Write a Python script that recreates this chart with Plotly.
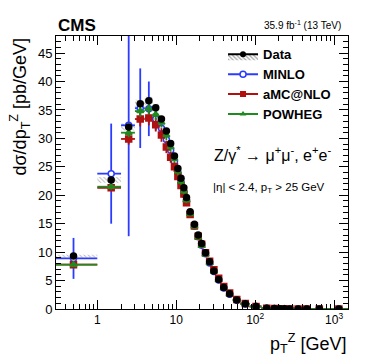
import plotly.graph_objects as go

# ---------------- data ----------------
bin_edges = [0, 1, 2, 3, 4, 5, 6, 7, 8, 9, 10, 11, 12, 13, 14, 16, 18, 20, 22, 25, 28,
             32, 37, 43, 52, 65, 85, 120, 160, 190, 220, 250, 300, 400, 500, 800, 1500]

data_vals = [9.3, 22.7, 32.0, 36.1, 36.6, 35.4, 33.4, 31.3, 29.1, 26.9, 24.7, 23.0, 21.3,
             19.6, 17.1, 14.9, 13.0, 11.5, 9.9, 8.3, 6.7, 5.2, 3.8, 2.7, 1.6, 0.93, 0.45,
             0.15, 0.07, 0.045, 0.03, 0.018, 0.009, 0.004, 0.0015, 0.0002]
data_unc = [0.25, 0.5, 0.6, 0.7, 0.7, 0.7, 0.6, 0.6, 0.6, 0.5, 0.5, 0.5, 0.4, 0.4, 0.4,
            0.3, 0.3, 0.3, 0.2, 0.2, 0.2, 0.1, 0.1, 0.1, 0.05, 0.03, 0.02, 0.01, 0.005,
            0.003, 0.002, 0.001, 0.001, 0.0005, 0.0002, 0.0001]

minlo_vals = [8.9, 23.8, 32.3, 35.3, 35.2, 33.4, 31.8, 29.8, 27.9, 25.9, 24.0, 22.3, 20.6,
              19.0, 16.8, 14.6, 12.7, 11.2, 9.7, 8.1, 6.6, 5.1, 3.7, 2.6, 1.55, 0.9, 0.43,
              0.14, 0.065, 0.042, 0.028, 0.017, 0.008, 0.0035, 0.0013, 0.0002]
minlo_err = [3.6, 8.8, 19.5, 7.0, 4.8, 2.0, 1.6, 1.3, 1.1, 0.9, 0.8, 0.7, 0.6, 0.5, 0.4,
             0.35, 0.3, 0.25, 0.2, 0.2, 0.15, 0.12, 0.1, 0.07, 0.05, 0.03, 0.02, 0.01,
             0.005, 0.003, 0.002, 0.001, 0.001, 0.0005, 0.0002, 0.0001]

amc_vals = [7.8, 21.3, 29.9, 33.4, 33.6, 32.4, 30.6, 28.5, 26.7, 25.0, 23.3, 21.7, 20.2,
            18.7, 16.6, 14.6, 12.8, 11.4, 9.9, 8.4, 6.9, 5.4, 3.95, 2.8, 1.65, 0.95, 0.46,
            0.15, 0.07, 0.045, 0.03, 0.018, 0.009, 0.004, 0.0015, 0.0002]
amc_err = [0.3, 0.5, 1.0, 1.3, 1.3, 1.2, 1.2, 1.1, 1.0, 0.9, 0.8, 0.7, 0.6, 0.6, 0.5,
           0.4, 0.3, 0.3, 0.25, 0.2, 0.15, 0.12, 0.1, 0.07, 0.05, 0.03, 0.02, 0.01,
           0.005, 0.003, 0.002, 0.001, 0.001, 0.0005, 0.0002, 0.0001]

powheg_vals = [7.8, 21.5, 31.0, 34.8, 35.2, 34.2, 32.8, 30.6, 28.5, 26.4, 24.2, 22.4, 20.7,
               19.1, 16.7, 14.5, 12.6, 11.1, 9.6, 8.1, 6.6, 5.1, 3.7, 2.6, 1.55, 0.9, 0.44,
               0.14, 0.065, 0.042, 0.028, 0.017, 0.008, 0.0035, 0.0013, 0.0002]
powheg_err = [0.3, 0.5, 0.8, 1.0, 1.0, 1.0, 0.9, 0.9, 0.8, 0.7, 0.7, 0.6, 0.5, 0.5, 0.4,
              0.35, 0.3, 0.25, 0.2, 0.2, 0.15, 0.12, 0.1, 0.07, 0.05, 0.03, 0.02, 0.01,
              0.005, 0.003, 0.002, 0.001, 0.001, 0.0005, 0.0002, 0.0001]

x_tickvals = [1, 10, 100, 1000]
x_ticktext = ["1", "10", "10<sup>2</sup>", "10<sup>3</sup>"]

# ---------------- derived ----------------
lo = [max(e, 1e-3) for e in bin_edges[:-1]]
hi = bin_edges[1:]
centers = [(a + b) / 2 for a, b in zip(bin_edges[:-1], bin_edges[1:])]
xm = [c - l for c, l in zip(centers, lo)]
xp = [h - c for c, h in zip(centers, hi)]

FONT = "Liberation Sans, Arial, Helvetica, sans-serif"
BLUE = "#2b3cff"
RED = "#b01010"
GREEN = "#1f8a1f"

fig = go.Figure()

# hatched data uncertainty boxes
bx, by = [], []
for l, h, v, u in zip(lo, hi, data_vals, data_unc):
    bx += [l, h, h, l, l, None]
    by += [v - u, v - u, v + u, v + u, v - u, None]
fig.add_trace(go.Scatter(x=bx, y=by, mode="lines", fill="toself", line=dict(width=0),
                         fillcolor="rgba(255,255,255,0)",
                         fillpattern=dict(shape="\\", fgcolor="#666666", size=3, solidity=0.3),
                         showlegend=False, hoverinfo="skip"))


def model_trace(vals, err, color, symbol, size, fillc):
    return go.Scatter(
        x=centers, y=vals, mode="markers", showlegend=False,
        marker=dict(symbol=symbol, size=size, color=fillc, line=dict(color=color, width=1.5)),
        error_x=dict(type="data", symmetric=False, array=xp, arrayminus=xm,
                     color=color, thickness=1.8, width=0),
        error_y=dict(type="data", array=err, color=color, thickness=1.8, width=0),
    )


fig.add_trace(model_trace(minlo_vals, minlo_err, BLUE, "circle", 6, "white"))
fig.add_trace(model_trace(amc_vals, amc_err, RED, "square", 6, RED))
fig.add_trace(model_trace(powheg_vals, powheg_err, GREEN, "triangle-up", 6, GREEN))

fig.add_trace(go.Scatter(x=centers, y=data_vals, mode="markers", showlegend=False,
                         marker=dict(symbol="circle", size=7.5, color="black")))

# legend entries
fig.add_trace(go.Scatter(x=[None], y=[None], mode="lines+markers", name="Data",
                         fill="toself", fillcolor="rgba(255,255,255,0)",
                         fillpattern=dict(shape="\\", fgcolor="#444444", size=3, solidity=0.4),
                         line=dict(color="black", width=2),
                         marker=dict(symbol="circle", size=6, color="black")))
fig.add_trace(go.Scatter(x=[None], y=[None], mode="lines+markers", name="MINLO",
                         line=dict(color=BLUE, width=2),
                         marker=dict(symbol="circle", size=6, color="white",
                                     line=dict(color=BLUE, width=1.5))))
fig.add_trace(go.Scatter(x=[None], y=[None], mode="lines+markers", name="aMC@NLO",
                         line=dict(color=RED, width=2),
                         marker=dict(symbol="square", size=6, color=RED)))
fig.add_trace(go.Scatter(x=[None], y=[None], mode="lines+markers", name="POWHEG",
                         line=dict(color=GREEN, width=2),
                         marker=dict(symbol="triangle-up", size=6, color=GREEN)))

minor_x = [m * 10 ** k for k in range(-1, 4) for m in range(2, 10) if 0.3 <= m * 10 ** k <= 1500]

# page body has an 8px default margin: shift the layout so the plot lands in place
fig.update_layout(
    width=374, height=363,
    margin=dict(l=48, r=34, t=28, b=62),
    paper_bgcolor="white", plot_bgcolor="white",
    font=dict(family=FONT, color="black"),
    showlegend=True,
    legend=dict(x=0.572, y=0.988, xanchor="left", yanchor="top",
                bgcolor="rgba(255,255,255,0)", font=dict(size=13, family=FONT, weight="bold"),
                tracegroupgap=0, itemwidth=30),
    xaxis=dict(type="log", range=[0.4771 - 1, 3.1761], tickmode="array",
               tickvals=x_tickvals, ticktext=x_ticktext, ticks="inside", ticklen=9,
               tickwidth=1, tickcolor="black", showline=True, linecolor="black", linewidth=1,
               mirror="allticks", showgrid=False, zeroline=False,
               tickfont=dict(size=12, family=FONT),
               minor=dict(tickvals=minor_x, ticks="inside", ticklen=5, tickcolor="black",
                          showgrid=False)),
    yaxis=dict(range=[0, 48], tickmode="linear", tick0=0, dtick=5, ticks="inside",
               ticklen=9, tickwidth=1, tickcolor="black", showline=True, linecolor="black",
               linewidth=1, mirror="allticks", showgrid=False, zeroline=False,
               tickfont=dict(size=13, family=FONT),
               minor=dict(dtick=1, ticks="inside", ticklen=5, tickcolor="black",
                          showgrid=False)),
)

anns = [
    dict(text="<b>CMS</b>", x=0.0, y=1.04, xanchor="left", yanchor="middle",
         font=dict(size=17)),
    dict(text="35.9 fb<sup>-1</sup> (13 TeV)", x=0.983, y=1.04, xanchor="right",
         yanchor="middle", font=dict(size=10)),
    dict(text="Z/γ<sup>*</sup> → μ<sup>+</sup>μ<sup>-</sup>, e<sup>+</sup>e<sup>-</sup>",
         x=0.534, y=0.568, xanchor="left", yanchor="middle", font=dict(size=16)),
    dict(text="|η| < 2.4, p<sub>T</sub> > 25 GeV", x=0.531, y=0.443, xanchor="left",
         yanchor="middle", font=dict(size=11.5)),
    dict(text="dσ/dp<sub>T</sub><sup>Z</sup> [pb/GeV]", x=-0.125, y=1.0, xanchor="center",
         yanchor="top", textangle=-90, font=dict(size=18)),
    dict(text="p<sub>T</sub><sup>Z</sup> [GeV]", x=1.0, y=-0.125, xanchor="right",
         yanchor="middle", font=dict(size=18)),
]
for a in anns:
    a.update(xref="paper", yref="paper", showarrow=False)
    fig.add_annotation(**a)

fig.write_html("out.html")
